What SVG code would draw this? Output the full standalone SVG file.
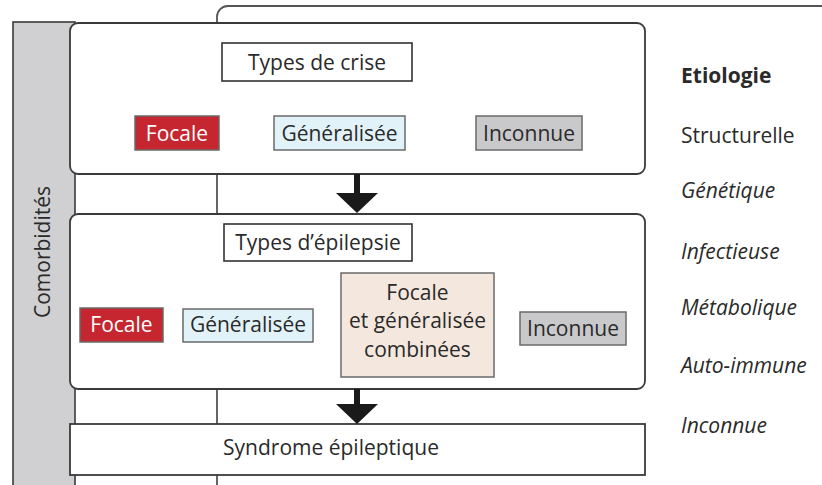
<svg xmlns="http://www.w3.org/2000/svg" width="822" height="485" viewBox="0 0 822 485">
<style>
text{font-family:"Open Sans","Noto Sans","Liberation Sans",sans-serif;font-size:21px;fill:#2a2a2a}
.c{text-anchor:middle}
.frame{fill:#fff;stroke:#3a3a3a;stroke-width:1.8}
.lbl{fill:#fff;stroke:#333;stroke-width:1.6}
.red{fill:#c5262f;stroke:#6a6a6a;stroke-width:1.5}
.blue{fill:#e2f2f9;stroke:#6a6a6a;stroke-width:1.5}
.grey{fill:#c9c9cb;stroke:#6a6a6a;stroke-width:1.5}
.beige{fill:#f4e8de;stroke:#6a6a6a;stroke-width:1.5}
.et{font-size:21px}
.it{font-style:italic}
.arrow{fill:#1a1a1a}
</style>
<g id="etiologie-cadre">
<rect x="217" y="6" width="640" height="500" rx="11" fill="#fff" stroke="#555" stroke-width="1.8"/>
</g>
<g id="comorbidites">
<rect x="13" y="22" width="62" height="480" fill="#d0d0d2" stroke="#3a3a3a" stroke-width="1.6"/>
<text class="c" transform="translate(50,252) rotate(-90)">Comorbidités</text>
</g>
<g id="types-crise">
<rect class="frame" x="70" y="23" width="575" height="151" rx="8"/>
<rect class="lbl" x="222" y="43" width="190" height="38"/>
<text class="c" x="317" y="70">Types de crise</text>
<rect class="red" x="135" y="116" width="84" height="34"/>
<text class="c" x="177" y="141" style="fill:#fff">Focale</text>
<rect class="blue" x="274" y="116" width="131" height="34"/>
<text class="c" x="339.5" y="141">Généralisée</text>
<rect class="grey" x="476" y="116" width="106" height="34"/>
<text class="c" x="529" y="141">Inconnue</text>
</g>
<g id="types-epilepsie">
<rect class="frame" x="70" y="214" width="575" height="175" rx="8"/>
<rect class="lbl" x="224" y="224" width="188" height="37"/>
<text class="c" x="318" y="250">Types d’épilepsie</text>
<rect class="red" x="80" y="308" width="83" height="34"/>
<text class="c" x="121.5" y="332" style="fill:#fff">Focale</text>
<rect class="blue" x="183" y="309" width="130" height="33"/>
<text class="c" x="248" y="332">Généralisée</text>
<rect class="beige" x="341" y="273" width="153" height="104"/>
<text class="c" x="417.5" y="300">Focale</text>
<text class="c" x="417.5" y="328">et généralisée</text>
<text class="c" x="417.5" y="357">combinées</text>
<rect class="grey" x="520" y="312" width="106" height="33"/>
<text class="c" x="573" y="336">Inconnue</text>
</g>
<g id="syndrome">
<rect class="frame" x="70" y="424" width="575" height="51"/>
<text class="c" x="331" y="455">Syndrome épileptique</text>
</g>
<g id="connecteurs">
<rect class="arrow" x="354" y="174" width="6" height="20"/>
<polygon class="arrow" points="336,193 378,193 357,213"/>
<rect class="arrow" x="354" y="389" width="6" height="16"/>
<polygon class="arrow" points="336,404 378,404 357,424"/>
</g>
<g id="etiologie">
<text class="et" x="681" y="83" style="font-weight:bold">Etiologie</text>
<text class="et" x="681" y="143">Structurelle</text>
<text class="et it" x="681" y="198">Génétique</text>
<text class="et it" x="681" y="259">Infectieuse</text>
<text class="et it" x="681" y="315">Métabolique</text>
<text class="et it" x="681" y="373">Auto-immune</text>
<text class="et it" x="681" y="433">Inconnue</text>
</g>
</svg>
